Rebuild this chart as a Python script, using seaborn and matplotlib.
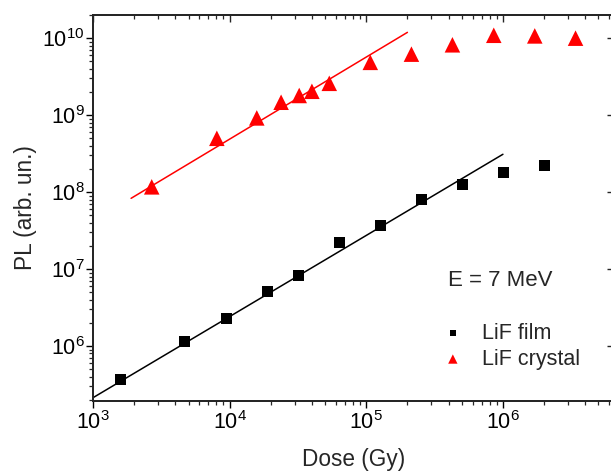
import numpy as np
import matplotlib
matplotlib.use("Agg")
import matplotlib.pyplot as plt
from matplotlib.ticker import LogLocator, NullFormatter, NullLocator
import seaborn as sns

# LiF film (black squares)
film_dose = [1.6e3, 4.7e3, 9.5e3, 1.9e4, 3.2e4, 6.4e4, 1.27e5, 2.53e5, 5.05e5, 1.01e6, 2.02e6]
film_pl = [3.66e5, 1.16e6, 2.26e6, 5.1e6, 8.3e6, 2.2e7, 3.7e7, 8.0e7, 1.26e8, 1.8e8, 2.24e8]

# LiF crystal (red triangles)
crystal_dose = [2.69e3, 8.06e3, 1.58e4, 2.38e4, 3.23e4, 4.0e4, 5.36e4, 1.07e5, 2.14e5,
                4.27e5, 8.57e5, 1.71e6, 3.4e6]
crystal_pl = [1.17e8, 5.0e8, 9.2e8, 1.47e9, 1.8e9, 2.04e9, 2.59e9, 4.85e9, 6.2e9,
              8.2e9, 1.09e10, 1.07e10, 1.0e10]

# linear fits (end points)
film_fit_x = [1.0e3, 1.0e6]
film_fit_y = [2.13e5, 3.1e8]
crystal_fit_x = [1.9e3, 2.0e5]
crystal_fit_y = [8.3e7, 1.19e10]

sns.set_style("ticks")
plt.rcParams['font.family'] = ['Liberation Sans', 'DejaVu Sans']
plt.rcParams['mathtext.fontset'] = 'custom'
plt.rcParams['mathtext.rm'] = 'Liberation Sans'
plt.rcParams['mathtext.it'] = 'Liberation Sans:italic'
plt.rcParams['mathtext.bf'] = 'Liberation Sans:bold'

fig = plt.figure(figsize=(6.11, 4.72), dpi=100)
ax = fig.add_axes([93 / 611, 1 - 401 / 472, (614 - 93) / 611, (401 - 15) / 472])
ax.set_xscale('log')
ax.set_yscale('log')

sns.lineplot(x=film_fit_x, y=film_fit_y, ax=ax, color='black', lw=1.1, legend=False)
sns.lineplot(x=crystal_fit_x, y=crystal_fit_y, ax=ax, color='red', lw=1.1, legend=False)
sns.scatterplot(x=film_dose, y=film_pl, ax=ax, marker='s', s=62, color='black',
                edgecolor='none', label='LiF film', zorder=3)
sns.scatterplot(x=crystal_dose, y=crystal_pl, ax=ax, marker='^', s=125, color='red',
                edgecolor='none', label='LiF crystal', zorder=3)

xlim = (1e3, 6.5e6)
ylim = (1.93e5, 2e10)
ax.set_xlim(*xlim)
ax.set_ylim(*ylim)

for side in ax.spines.values():
    side.set_linewidth(1.2)
    side.set_color('black')

ax.xaxis.set_major_locator(LogLocator(base=10, numticks=20))
ax.xaxis.set_minor_locator(LogLocator(base=10, subs=np.arange(2, 10), numticks=20))
ax.yaxis.set_major_locator(LogLocator(base=10, numticks=20))
ax.yaxis.set_minor_locator(LogLocator(base=10, subs=np.arange(2, 10), numticks=20))
ax.xaxis.set_minor_formatter(NullFormatter())
ax.yaxis.set_minor_formatter(NullFormatter())
ax.tick_params(which='major', direction='out', length=5, width=1.0, labelsize=15.5,
               colors='black', top=False, right=False)
ax.tick_params(which='minor', direction='out', length=3, width=0.9, top=False, right=False)
ax.tick_params(axis='y', which='major', pad=1)
ax.tick_params(axis='x', which='major', pad=2)

# top axis: inward ticks, major + minor
axt = ax.twiny()
axt.set_xscale('log')
axt.set_xlim(*xlim)
axt.xaxis.set_major_locator(LogLocator(base=10, numticks=20))
axt.xaxis.set_minor_locator(LogLocator(base=10, subs=np.arange(2, 10), numticks=20))
axt.xaxis.set_major_formatter(NullFormatter())
axt.xaxis.set_minor_formatter(NullFormatter())
axt.tick_params(which='major', direction='in', length=5, width=1.0)
axt.tick_params(which='minor', direction='in', length=3, width=0.9)

# right axis: inward major ticks only
axr = ax.twinx()
axr.set_yscale('log')
axr.set_ylim(*ylim)
axr.yaxis.set_major_locator(LogLocator(base=10, numticks=20))
axr.yaxis.set_minor_locator(NullLocator())
axr.yaxis.set_major_formatter(NullFormatter())
axr.tick_params(which='major', direction='in', length=5, width=1.0)
for a in (axt, axr):
    for side in a.spines.values():
        side.set_linewidth(1.2)

ax.set_xlabel('Dose (Gy)', fontsize=16.3, labelpad=10)
ax.set_ylabel('PL (arb. un.)', fontsize=16.3, labelpad=4)

ax.text(0.681, 0.312, 'E = 7 MeV', transform=ax.transAxes, fontsize=16,
        ha='left', va='center')

ax.legend(loc='upper left', bbox_to_anchor=(0.670, 0.2033), frameon=False,
          fontsize=15.5, markerscale=0.6, handlelength=1.0, handletextpad=0.85,
          borderpad=0, borderaxespad=0, labelspacing=0.24)

fig.savefig('out.png', dpi=100)
